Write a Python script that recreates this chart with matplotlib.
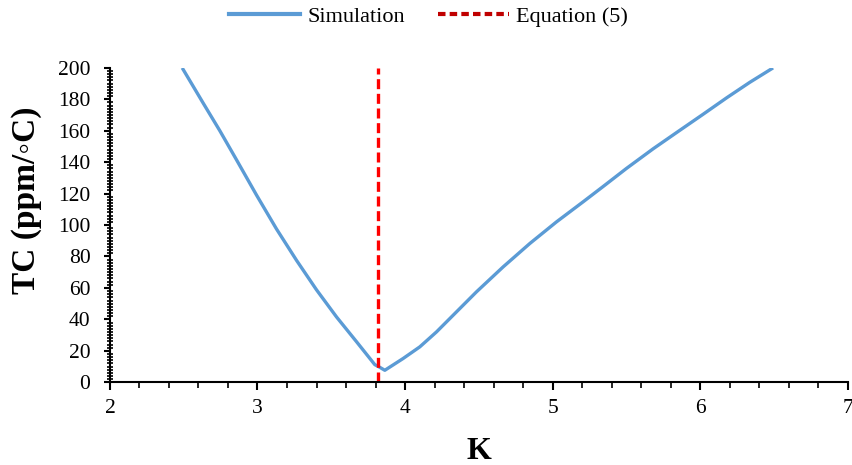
import matplotlib.pyplot as plt
from matplotlib.ticker import MultipleLocator
from matplotlib.lines import Line2D

plt.rcParams['font.family'] = ['Liberation Serif', 'DejaVu Serif']

# simulated TC versus K
k_sim = [2.49, 2.632, 2.745, 2.858, 2.994, 3.129, 3.265, 3.40, 3.536, 3.671,
         3.795, 3.825, 3.863, 3.987, 4.10, 4.213, 4.349, 4.484, 4.665, 4.846,
         5.026, 5.207, 5.342, 5.5, 5.681, 5.85, 6.02, 6.18, 6.336, 6.494]
tc_sim = [200, 177.6, 160, 141.5, 119, 97.5, 77.5, 58.8, 41.5, 25.8,
          11.2, 9.7, 7.6, 15.1, 22.5, 32, 44.8, 57.5, 73.4, 88.3,
          102, 114.8, 124.5, 136, 148.5, 159.5, 170.5, 181, 190.8, 200]

# optimum K from equation (5)
k_eq = 3.82
tc_eq = [0, 200]

blue = '#5b9bd5'
red_line = '#ff0000'
red_legend = '#c00000'

fig, ax = plt.subplots(figsize=(8.52, 4.65), dpi=100)
fig.subplots_adjust(left=0.129, right=0.995, top=0.854, bottom=0.178)

ax.plot(k_sim, tc_sim, color=blue, lw=2.4, solid_joinstyle='round',
        solid_capstyle='butt')
ax.plot([k_eq, k_eq], tc_eq, color=red_line, lw=2.4, ls=(0, (3, 1.4)))

ax.set_xlim(2, 7)
ax.set_ylim(0, 200)
ax.xaxis.set_major_locator(MultipleLocator(1))
ax.xaxis.set_minor_locator(MultipleLocator(0.2))
ax.yaxis.set_major_locator(MultipleLocator(20))
ax.yaxis.set_minor_locator(MultipleLocator(2))

for s in ['top', 'right']:
    ax.spines[s].set_visible(False)
for s in ['left', 'bottom']:
    ax.spines[s].set_linewidth(1.5)

ax.tick_params(axis='x', which='major', direction='out', length=6, width=1.5,
               pad=6, labelsize=15.5)
ax.tick_params(axis='x', which='minor', direction='out', length=4, width=1.2)
ax.tick_params(axis='y', which='major', direction='out', length=4, width=1.5,
               pad=10, labelsize=15.5)
ax.tick_params(axis='y', which='minor', direction='inout', length=5, width=1.2)

ax.set_xlabel('K', fontsize=23, fontweight='bold')
ax.xaxis.set_label_coords(0.5, -0.175)
ax.set_ylabel('TC (ppm/\u25e6C)', fontsize=24, fontweight='bold')
ax.yaxis.set_label_coords(-0.092, 0.58)

handles = [Line2D([], [], color=blue, lw=3),
           Line2D([], [], color=red_legend, lw=3, ls=(0, (1.8, 1.0)))]
fig.legend(handles, ['Simulation', 'Equation (5)'], loc='upper center',
           bbox_to_anchor=(0.503, 1.03), ncol=2, frameon=False, fontsize=16,
           handlelength=3.2, handletextpad=0.3, columnspacing=1.5)

fig.savefig('out.png', dpi=100)
